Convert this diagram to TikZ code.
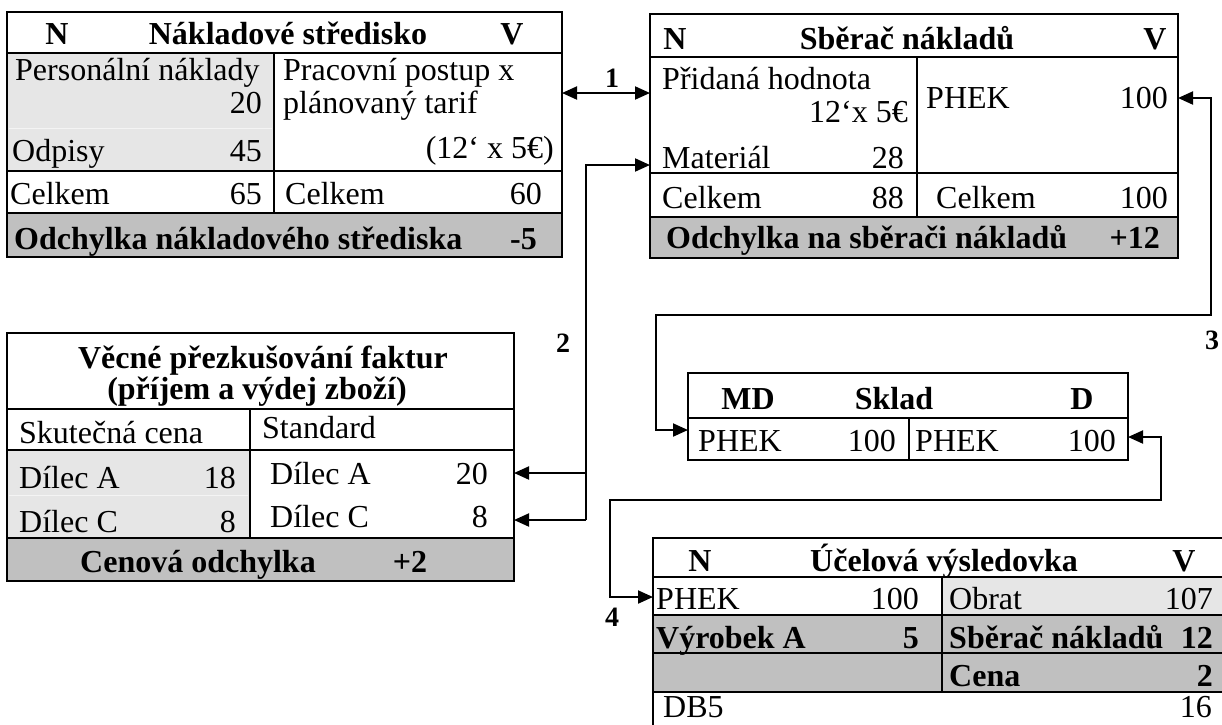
\documentclass[tikz,border=0pt]{standalone}
\usepackage{fontspec}
\setmainfont{Liberation Serif}
\usetikzlibrary{arrows.meta,calc}
\definecolor{cellgray}{HTML}{E6E6E6}
\definecolor{sumgray}{HTML}{C0C0C0}
\tikzset{
  frame/.style={draw, line width=2.8pt, rectangle, inner sep=0pt, outer sep=0pt, anchor=north west},
  rule/.style={line width=2.4pt},
  faint/.style={line width=1pt, draw=white!55!cellgray},
  txt/.style={inner sep=0pt, text height=22pt, text depth=0pt, font=\fontsize{32}{38}\selectfont},
  btxt/.style={txt, font=\fontsize{32}{38}\selectfont\bfseries},
  lt/.style={txt, anchor=west}, rt/.style={txt, anchor=east},
  lb/.style={btxt, anchor=west}, rb/.style={btxt, anchor=east},
  num/.style={inner sep=0pt, font=\fontsize{28}{32}\selectfont\bfseries},
  tip/.tip={Triangle[length=15pt,width=13pt]},
  link/.style={line width=2pt, -tip},
  linkboth/.style={line width=2pt, tip-tip}
}
\begin{document}
\begin{tikzpicture}[x=1pt,y=-1pt]
\useasboundingbox (0,0) rectangle (1222,724);
\clip (0,0) rectangle (1222,724);

% ---- Nákladové středisko ----
\fill[cellgray] (7,53) rectangle (274,171);
\fill[sumgray] (7,213) rectangle (562,257);
\draw[faint] (9,128) -- (272,128);
\draw[rule] (7,53) -- (562,53) (7,171) -- (562,171) (7,213) -- (562,213) (274,53) -- (274,213);
\node[frame, minimum width=555pt, minimum height=245pt] (t1) at (7,12) {};
\node[btxt] (t1n) at (57,33) {N};
\node[btxt] (t1h) at (288,33) {Nákladové středisko};
\node[btxt] (t1v) at (512,33) {V};
\node[lt] (t1a) at (15,69) {Personální náklady};
\node[rt] (t1b) at (262,102) {20};
\node[lt] (t1c) at (12,150) {Odpisy};
\node[rt] (t1d) at (262,150) {45};
\node[lt] (t1e) at (283,69) {Pracovní postup x};
\node[lt] (t1f) at (283,102) {plánovaný tarif};
\node[rt] (t1g) at (554,147) {(12‘ x 5€)};
\node[lt] (t1i) at (10,193) {Celkem};
\node[rt] (t1j) at (262,193) {65};
\node[lt] (t1k) at (285,193) {Celkem};
\node[rt] (t1l) at (542,193) {60};
\node[lb] (t1m) at (14,238) {Odchylka nákladového střediska};
\node[rb] (t1o) at (537,238) {-5};

% ---- Sběrač nákladů ----
\fill[sumgray] (650,217) rectangle (1178,258);
\draw[rule] (650,57) -- (1178,57) (650,173) -- (1178,173) (650,217) -- (1178,217) (917,57) -- (917,217);
\node[frame, minimum width=528pt, minimum height=244pt] (t2) at (650,14) {};
\node[btxt] (t2n) at (675,38) {N};
\node[btxt] (t2h) at (907,38) {Sběrač nákladů};
\node[btxt] (t2v) at (1155,38) {V};
\node[lt] (t2a) at (662,78) {Přidaná hodnota};
\node[rt] (t2b) at (908,111) {12‘x 5€};
\node[lt] (t2c) at (662,157) {Materiál};
\node[rt] (t2d) at (904,157) {28};
\node[lt] (t2e) at (926,97) {PHEK};
\node[rt] (t2f) at (1168,97) {100};
\node[lt] (t2g) at (662,197) {Celkem};
\node[rt] (t2i) at (904,197) {88};
\node[lt] (t2j) at (936,197) {Celkem};
\node[rt] (t2k) at (1168,197) {100};
\node[lb] (t2l) at (666,237) {Odchylka na sběrači nákladů};
\node[rb] (t2m) at (1160,237) {+12};

% ---- Věcné přezkušování faktur ----
\fill[cellgray] (7,450) rectangle (250,538);
\fill[sumgray] (7,538) rectangle (514,581);
\draw[faint] (9,495) -- (248,495);
\draw[rule] (7,409) -- (514,409) (7,450) -- (514,450) (7,538) -- (514,538) (250,409) -- (250,538);
\node[frame, minimum width=507pt, minimum height=248pt] (t3) at (7,333) {};
\node[btxt] (t3h) at (263,357) {Věcné přezkušování faktur};
\node[btxt] (t3g) at (257,388) {(příjem a výdej zboží)};
\node[lt] (t3a) at (19,432) {Skutečná cena};
\node[lt] (t3b) at (262,427) {Standard};
\node[lt] (t3c) at (19,477) {Dílec A};
\node[rt] (t3d) at (236,477) {18};
\node[lt] (t3e) at (19,521) {Dílec C};
\node[rt] (t3f) at (236,521) {8};
\node[lt] (t3i) at (270,473) {Dílec A};
\node[rt] (t3j) at (488,473) {20};
\node[lt] (t3k) at (270,516) {Dílec C};
\node[rt] (t3l) at (488,516) {8};
\node[btxt] (t3m) at (198,561) {Cenová odchylka};
\node[btxt] (t3o) at (410,561) {+2};

% ---- Sklad ----
\draw[rule] (688,418) -- (1128,418) (909,418) -- (909,460);
\node[frame, minimum width=440pt, minimum height=87pt] (t4) at (688,373) {};
\node[btxt] (t4a) at (748,398) {MD};
\node[btxt] (t4h) at (894,398) {Sklad};
\node[btxt] (t4b) at (1082,398) {D};
\node[lt] (t4c) at (698,440) {PHEK};
\node[rt] (t4d) at (896,440) {100};
\node[lt] (t4e) at (915,440) {PHEK};
\node[rt] (t4f) at (1116,440) {100};

% ---- Účelová výsledovka ----
\fill[cellgray] (942,577) rectangle (1240,615);
\fill[sumgray] (653,615) rectangle (1240,692);
\draw[rule] (653,577) -- (1240,577) (653,615) -- (1240,615) (653,653) -- (1240,653) (653,692) -- (1240,692) (942,577) -- (942,692);
\node[frame, minimum width=587pt, minimum height=210pt] (t5) at (653,538) {};
\node[btxt] (t5n) at (700,560) {N};
\node[btxt] (t5h) at (944,560) {Účelová výsledovka};
\node[btxt] (t5v) at (1184,560) {V};
\node[lt] (t5a) at (656,598) {PHEK};
\node[rt] (t5b) at (919,598) {100};
\node[lt] (t5c) at (949,598) {Obrat};
\node[rt] (t5d) at (1213,598) {107};
\node[lb] (t5e) at (656,637) {Výrobek A};
\node[rb] (t5f) at (919,637) {5};
\node[lb] (t5g) at (949,637) {Sběrač nákladů};
\node[rb] (t5i) at (1213,637) {12};
\node[lb] (t5j) at (949,675) {Cena};
\node[rb] (t5k) at (1213,675) {2};
\node[lt] (t5l) at (663,706) {DB5};
\node[rt] (t5m) at (1212,706) {16};

% ---- connectors ----
\draw[linkboth] ($(t1.north east)+(0,81)$) -- ($(t2.north west)+(0,79)$);
\node[num] (n1) at (612,78) {1};

\coordinate (k2) at (586,520);
\draw[link] (k2) |- ($(t2.north west)+(0,151)$);
\draw[link] (k2) -- ($(t3.north east)+(0,187)$);
\draw[link] ($(k2)+(0,-47)$) -- ($(t3.north east)+(0,140)$);
\node[num] (n2) at (563,343) {2};

\coordinate (r3) at (1211,315);
\coordinate (l3) at (656,315);
\draw[linkboth] ($(t2.north east)+(0,84)$) -| (r3) -- (l3) |- ($(t4.north west)+(0,57)$);
\node[num] (n3) at (1212,340) {3};

\coordinate (r4) at (1161,500);
\coordinate (l4) at (610,500);
\draw[linkboth] ($(t4.north east)+(0,64)$) -| (r4) -- (l4) |- ($(t5.north west)+(0,59)$);
\node[num] (n4) at (612,617) {4};
\end{tikzpicture}
\end{document}
